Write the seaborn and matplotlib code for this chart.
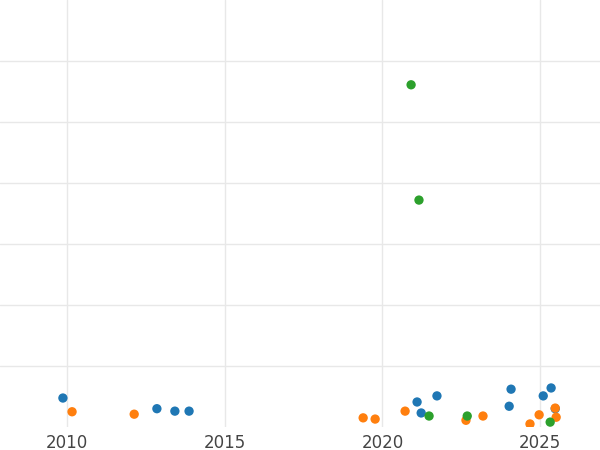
import matplotlib
matplotlib.use("Agg")
import matplotlib.pyplot as plt
import seaborn as sns
import pandas as pd

# point data (year, value) per series
blue_x = [2009.87, 2012.85, 2013.42, 2013.87, 2021.1, 2021.23, 2021.73, 2024.02, 2024.08, 2025.1, 2025.35, 2025.48]
blue_y = [0.475, 0.30, 0.26, 0.26, 0.41, 0.23, 0.51, 0.34, 0.62, 0.51, 0.64, 0.30]
orange_x = [2010.16, 2012.13, 2019.39, 2019.77, 2020.72, 2022.65, 2023.19, 2024.68, 2024.97, 2025.48, 2025.51]
orange_y = [0.25, 0.21, 0.15, 0.13, 0.26, 0.11, 0.18, 0.05, 0.20, 0.31, 0.16]
green_x = [2020.91, 2021.16, 2021.48, 2022.69, 2025.32]
green_y = [5.61, 3.72, 0.18, 0.18, 0.08]

df = pd.concat([
    pd.DataFrame({"year": blue_x, "value": blue_y, "series": "a"}),
    pd.DataFrame({"year": orange_x, "value": orange_y, "series": "b"}),
    pd.DataFrame({"year": green_x, "value": green_y, "series": "c"}),
])

sns.set_style("white")
fig = plt.figure(figsize=(6, 4.5), dpi=100)
ax = fig.add_axes([0, 23 / 450, 1, 1 - 23 / 450])
palette = {"a": "#1f77b4", "b": "#ff7f0e", "c": "#2ca02c"}
sns.scatterplot(data=df, x="year", y="value", hue="series", palette=palette,
                s=45, edgecolor="none", legend=False, ax=ax, zorder=3)

ax.set_xlim(2007.875, 2026.9)
ax.set_ylim(0, 7)
ax.set_xticks([2010, 2015, 2020, 2025])
ax.set_yticks(range(1, 7))
ax.set_yticklabels([])
ax.grid(True, which="major", color="#e8e8e8", linewidth=1)
ax.tick_params(length=0, which="both", labelsize=12, labelcolor="#444444", pad=5)
ax.set_xlabel("")
ax.set_ylabel("")
for s in ax.spines.values():
    s.set_visible(False)

fig.savefig("out.png", dpi=100)
